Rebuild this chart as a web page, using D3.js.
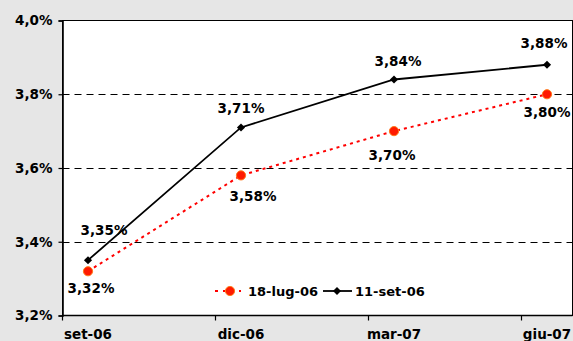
<!DOCTYPE html>
<html>
<head>
<meta charset="utf-8">
<script src="https://cdn.jsdelivr.net/npm/d3@7"></script>
<style>
  html, body { margin: 0; padding: 0; background: #e6e6e6; }
  svg { display: block; }
  text { font-family: "DejaVu Sans", Verdana, sans-serif; font-weight: bold; fill: #000; }
</style>
</head>
<body>
<svg id="chart" width="573" height="341"></svg>
<script>
// Monthly axis from set-06 to giu-07; the four labelled quarters carry the data
const axisStart = new Date(2006, 8, 1);
const axisEnd = new Date(2007, 6, 1);
const categories = ["set-06", "dic-06", "mar-07", "giu-07"];
const categoryMonths = [new Date(2006, 8, 1), new Date(2006, 11, 1), new Date(2007, 2, 1), new Date(2007, 5, 1)];

const seriesNames = ["18-lug-06", "11-set-06"];
const valuesLug = [3.32, 3.58, 3.70, 3.80];
const valuesSet = [3.35, 3.71, 3.84, 3.88];

const yTicks = [3.2, 3.4, 3.6, 3.8, 4.0];

// label placement relative to each point: [dx, dy]
const labelOffsetsLug = [[3, 22], [12, 26], [-2, 29], [0, 23]];
const labelOffsetsSet = [[16, -25], [0, -14], [4, -14], [-3, -17]];

const FONT = 13.5;

const svg = d3.select("#chart");
const plot = { left: 62.5, top: 20.5, right: 572.5, bottom: 315.5 };

const months = d3.timeMonth.range(axisStart, axisEnd);
const x = d3.scaleBand().domain(months.map(d => +d)).range([plot.left, plot.right]).paddingInner(0).paddingOuter(0);
const xc = d => x(+d) + x.bandwidth() / 2;
const y = d3.scaleLinear().domain([3.2, 4.0]).range([plot.bottom, plot.top]);

const fmtPct = v => d3.format(".2f")(v).replace(".", ",") + "%";
const fmtTick = v => d3.format(".1f")(v).replace(".", ",") + "%";

// plot area
svg.append("rect")
  .attr("x", plot.left).attr("y", plot.top)
  .attr("width", plot.right - plot.left).attr("height", plot.bottom - plot.top)
  .attr("fill", "#fff").attr("stroke", "#000").attr("stroke-width", 1);

// dashed horizontal gridlines
svg.append("g").selectAll("line")
  .data(yTicks.filter(v => v > 3.2 && v < 4.0))
  .join("line")
  .attr("x1", plot.left).attr("x2", plot.right)
  .attr("y1", d => Math.round(y(d)) + 0.5).attr("y2", d => Math.round(y(d)) + 0.5)
  .attr("stroke", "#000").attr("stroke-width", 1)
  .attr("stroke-dasharray", "7 5");

// y axis
const yAxis = d3.axisLeft(y).tickValues(yTicks).tickFormat(fmtTick).tickSize(4).tickPadding(6);
const gy = svg.append("g").attr("transform", `translate(${plot.left},0)`).call(yAxis);
gy.select(".domain").attr("stroke", "#000").attr("stroke-width", 1.6);
gy.selectAll(".tick line").attr("stroke", "#000").attr("stroke-width", 1.2);
gy.selectAll(".tick text").attr("font-size", FONT).attr("font-family", "DejaVu Sans").attr("font-weight", "bold").attr("fill", "#000");

// x axis: ticks at quarter boundaries, labels centred on the month
const gx = svg.append("g");
gx.append("line")
  .attr("x1", plot.left).attr("x2", plot.right)
  .attr("y1", plot.bottom).attr("y2", plot.bottom)
  .attr("stroke", "#000").attr("stroke-width", 1.6);
gx.selectAll("line.tick")
  .data(categoryMonths)
  .join("line").attr("class", "tick")
  .attr("x1", d => x(+d)).attr("x2", d => x(+d))
  .attr("y1", plot.bottom).attr("y2", plot.bottom + 5)
  .attr("stroke", "#000").attr("stroke-width", 1.2);
gx.selectAll("text")
  .data(categoryMonths)
  .join("text")
  .attr("x", d => xc(d)).attr("y", 339)
  .attr("text-anchor", "middle").attr("font-size", FONT)
  .text((d, i) => categories[i]);

// series
const lineGen = d3.line().x(d => xc(d.m)).y(d => y(d.v));
const lugPts = valuesLug.map((v, i) => ({ m: categoryMonths[i], v }));
const setPts = valuesSet.map((v, i) => ({ m: categoryMonths[i], v }));

svg.append("path").datum(lugPts).attr("d", lineGen)
  .attr("fill", "none").attr("stroke", "#ff0000").attr("stroke-width", 2)
  .attr("stroke-dasharray", "3 4");
svg.append("path").datum(setPts).attr("d", lineGen)
  .attr("fill", "none").attr("stroke", "#000").attr("stroke-width", 1.8);

const diamond = d3.symbol().type(d3.symbolDiamond2).size(42);

svg.append("g").selectAll("circle").data(lugPts).join("circle")
  .attr("cx", d => xc(d.m)).attr("cy", d => y(d.v)).attr("r", 4.6)
  .attr("fill", "#ff1a00").attr("stroke", "#ff7a1a").attr("stroke-width", 1);
svg.append("g").selectAll("path").data(setPts).join("path")
  .attr("d", diamond)
  .attr("transform", d => `translate(${xc(d.m)},${y(d.v)})`)
  .attr("fill", "#000");

// value labels
svg.append("g").selectAll("text").data(lugPts).join("text")
  .attr("x", (d, i) => xc(d.m) + labelOffsetsLug[i][0])
  .attr("y", (d, i) => y(d.v) + labelOffsetsLug[i][1])
  .attr("text-anchor", "middle").attr("font-size", FONT)
  .text(d => fmtPct(d.v));
svg.append("g").selectAll("text").data(setPts).join("text")
  .attr("x", (d, i) => xc(d.m) + labelOffsetsSet[i][0])
  .attr("y", (d, i) => y(d.v) + labelOffsetsSet[i][1])
  .attr("text-anchor", "middle").attr("font-size", FONT)
  .text(d => fmtPct(d.v));

// legend
const legend = svg.append("g").attr("transform", "translate(215,291)");
legend.append("line").attr("x1", 0).attr("x2", 26).attr("y1", 0).attr("y2", 0)
  .attr("stroke", "#ff0000").attr("stroke-width", 2).attr("stroke-dasharray", "3 5");
legend.append("circle").attr("cx", 15).attr("cy", 0).attr("r", 4.6)
  .attr("fill", "#ff1a00").attr("stroke", "#ff7a1a").attr("stroke-width", 1);
legend.append("text").attr("x", 33).attr("y", 0).attr("dy", "0.35em").attr("font-size", 13).text(seriesNames[0]);
legend.append("line").attr("x1", 108).attr("x2", 137).attr("y1", 0).attr("y2", 0)
  .attr("stroke", "#000").attr("stroke-width", 1.8);
legend.append("path").attr("d", diamond).attr("transform", "translate(122,0)").attr("fill", "#000");
legend.append("text").attr("x", 140).attr("y", 0).attr("dy", "0.35em").attr("font-size", 13).text(seriesNames[1]);
</script>
</body>
</html>
